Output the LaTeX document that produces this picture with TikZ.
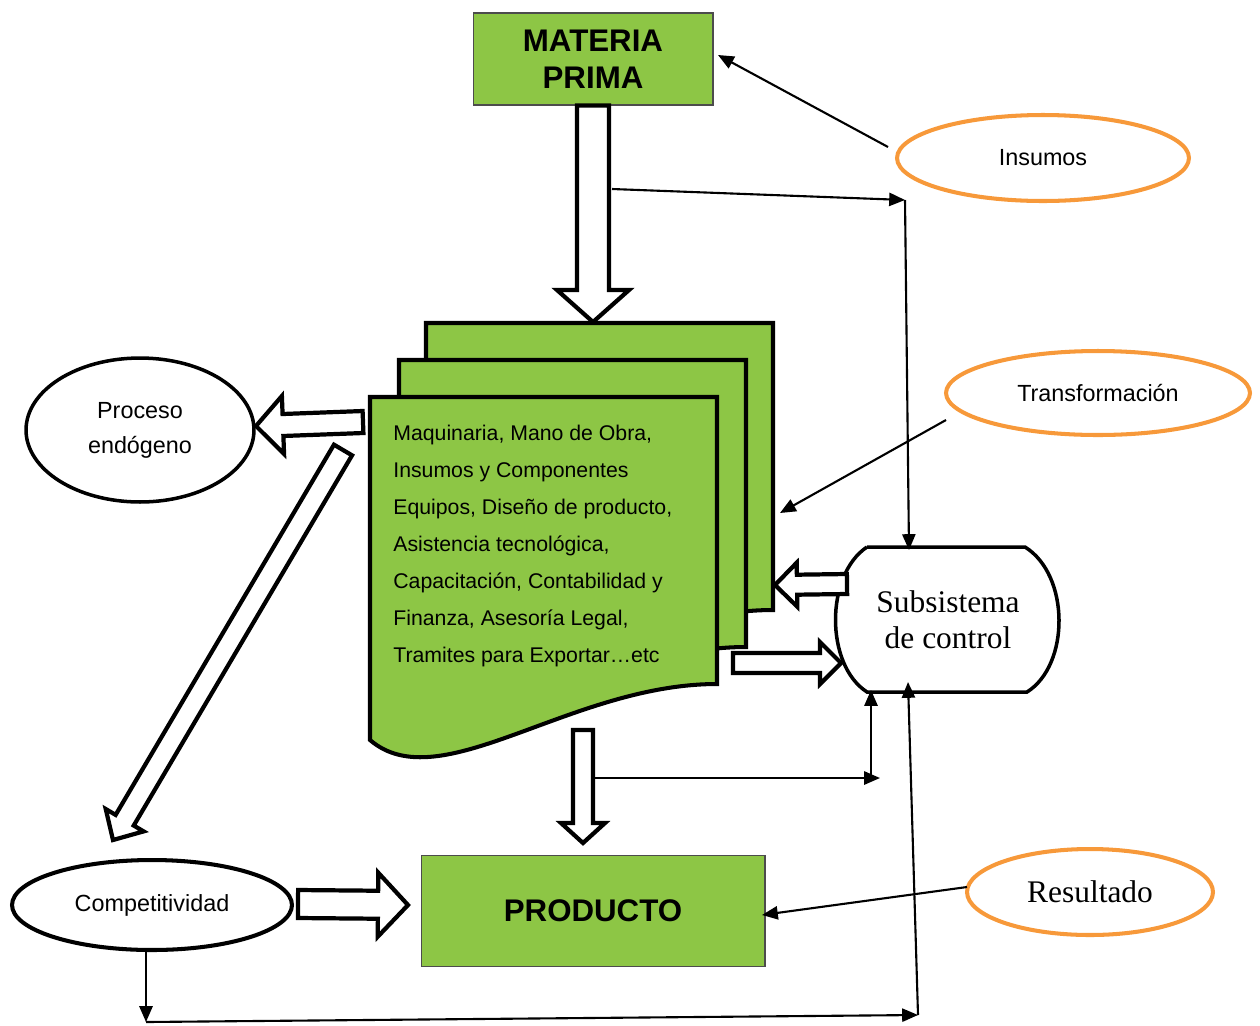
\documentclass[tikz,border=0pt]{standalone}
\usepackage{fontspec}
\setmainfont{Liberation Sans}
\newfontfamily\serifont{Liberation Serif}
\usetikzlibrary{shapes.geometric,arrows.meta,calc}
\definecolor{leafgreen}{HTML}{8DC645}
\definecolor{peach}{HTML}{F7993A}
\tikzset{
  greenbox/.style={draw=black!70, line width=0.6pt, fill=leafgreen, align=center, inner sep=0pt,
    font=\bfseries\fontsize{17.8}{21}\selectfont},
  blackoval/.style={ellipse, draw, line width=2pt, inner sep=0pt, align=center,
    font=\fontsize{13.3}{19.8}\selectfont},
  orangeoval/.style={ellipse, draw=peach, line width=2.3pt, inner sep=0pt, align=center,
    font=\fontsize{13.3}{19.8}\selectfont},
  page/.style={draw, line width=2.3pt, fill=leafgreen, line join=miter},
  blockline/.style={draw, line width=2.4pt, fill=white, line join=miter},
  thinarrow/.style={line width=1.2pt, -{Triangle[length=9pt,width=7.5pt]}},
}
% hollow block arrow: tail, tip, shaft half width, head half width, head length
\newcommand{\blockarrow}[5]{%
  \coordinate (ba-h) at ($(#2)!#5!(#1)$);
  \draw[blockline] ($(#1)!#3!90:(#2)$) -- ($(ba-h)!#3!90:(#2)$) -- ($(ba-h)!#4!90:(#2)$) -- (#2)
    -- ($(ba-h)!#4!-90:(#2)$) -- ($(ba-h)!#3!-90:(#2)$) -- ($(#1)!#3!-90:(#2)$) -- cycle;
}
\begin{document}
\begin{tikzpicture}[x=0.02cm, y=-0.02cm]
  \useasboundingbox (0,0) rectangle (1260,1025);
  % the three pages
  \foreach \dx/\dy in {56/-74, 29/-37, 0/0}
    \draw[page, shift={(\dx,\dy)}] (370,397) -- (717,397) -- (717,684)
      .. controls (570,684) and (440,800) .. (370,740) -- cycle;
  \node[anchor=north west, inner sep=0pt, align=left, font=\fontsize{12.1}{21}\selectfont] (recursos) at (393,425)
    {Maquinaria, Mano de Obra,\\Insumos y Componentes\\Equipos, Diseño de producto,\\Asistencia tecnológica,\\
     Capacitación, Contabilidad y\\Finanza, Asesoría Legal,\\Tramites para Exportar\ldots etc};
  % boxes
  \node[greenbox, minimum width=4.8cm, minimum height=1.84cm] (mp) at (593,59) {MATERIA\\PRIMA};
  \node[greenbox, minimum width=6.88cm, minimum height=2.22cm] (prod) at (593,911) {PRODUCTO};
  % ovals
  \node[blackoval, minimum width=4.56cm, minimum height=2.88cm] (proceso) at (140,430) {Proceso\\endógeno};
  \node[blackoval, minimum width=5.6cm, minimum height=1.8cm, line width=2.3pt] (compet) at (152,905) {Competitividad};
  \node[orangeoval, minimum width=5.84cm, minimum height=1.72cm] (insumos) at (1043,158) {Insumos};
  \node[orangeoval, minimum width=6.08cm, minimum height=1.68cm] (transf) at (1098,393) {Transformación};
  \node[orangeoval, minimum width=4.92cm, minimum height=1.72cm,
    font=\serifont\fontsize{17.9}{20.4}\selectfont] (result) at (1090,892) {Resultado};
  % control subsystem
  \draw[line width=2pt] (867,547) -- (1025,547) .. controls (1070,575) and (1070,665) .. (1027,692)
    -- (867,692) .. controls (825,665) and (825,575) .. (867,547);
  \node[align=center, font=\serifont\fontsize{17.9}{20.4}\selectfont] (control) at (948,620) {Subsistema\\de control};
  % coordinates for the connectors
  \coordinate (pagetop) at (593,322);
  \coordinate (pageleft) at (363,422);
  \coordinate (procesotip) at (256,426);
  \coordinate (diagtail) at (343,450);
  \coordinate (diagtip) at (113,840);
  \coordinate (compettail) at (298,904);
  \coordinate (prodtip) at (408,905);
  \coordinate (pagebottom) at (583,730);
  \coordinate (prodtop) at (583,843);
  \coordinate (ctrlleft) at (847,584);
  \coordinate (backtip) at (775,585);
  \coordinate (midtail) at (733,663);
  \coordinate (ctrltip) at (841,663);
  % hollow arrows
  \blockarrow{mp.south}{pagetop}{0.32cm}{0.72cm}{0.64cm}
  \blockarrow{pageleft}{procesotip}{0.22cm}{0.58cm}{0.54cm}
  \blockarrow{diagtail}{diagtip}{0.21cm}{0.44cm}{0.46cm}
  \blockarrow{compettail}{prodtip}{0.28cm}{0.64cm}{0.6cm}
  \blockarrow{pagebottom}{prodtop}{0.2cm}{0.44cm}{0.4cm}
  \blockarrow{ctrlleft}{backtip}{0.2cm}{0.44cm}{0.44cm}
  \blockarrow{midtail}{ctrltip}{0.2cm}{0.42cm}{0.42cm}
  % thin arrows
  \coordinate (insumosout) at (888,147);
  \coordinate (mpin) at (718,55);
  \coordinate (shaftout) at (612,189);
  \coordinate (corner) at (905,200);
  \coordinate (ctrltop) at (909,550);
  \coordinate (transfout) at (946,420);
  \coordinate (pagesin) at (780,513);
  \coordinate (resultout) at (967,887);
  \coordinate (prodin) at (762,915);
  \coordinate (prodshaft) at (593,778);
  \coordinate (feedend) at (880,778);
  \coordinate (feedup) at (871,778);
  \coordinate (ctrlbl) at (871,690);
  \coordinate (competout) at (146,950);
  \coordinate (competdown) at (146,1022);
  \coordinate (bottomright) at (918,1015);
  \coordinate (ctrlbottom) at (908,682);
  \draw[thinarrow] (insumosout) -- (mpin);
  \draw[thinarrow] (shaftout) -- (corner);
  \draw[thinarrow] (corner) -- (ctrltop);
  \draw[thinarrow] (transfout) -- (pagesin);
  \draw[thinarrow] (resultout) -- (prodin);
  \draw[thinarrow] (prodshaft) -- (feedend);
  \draw[thinarrow] (feedup) -- (ctrlbl);
  \draw[thinarrow] (competout) -- (competdown);
  \draw[thinarrow] (competdown) -- (bottomright);
  \draw[thinarrow] (bottomright) -- (ctrlbottom);
\end{tikzpicture}
\end{document}
